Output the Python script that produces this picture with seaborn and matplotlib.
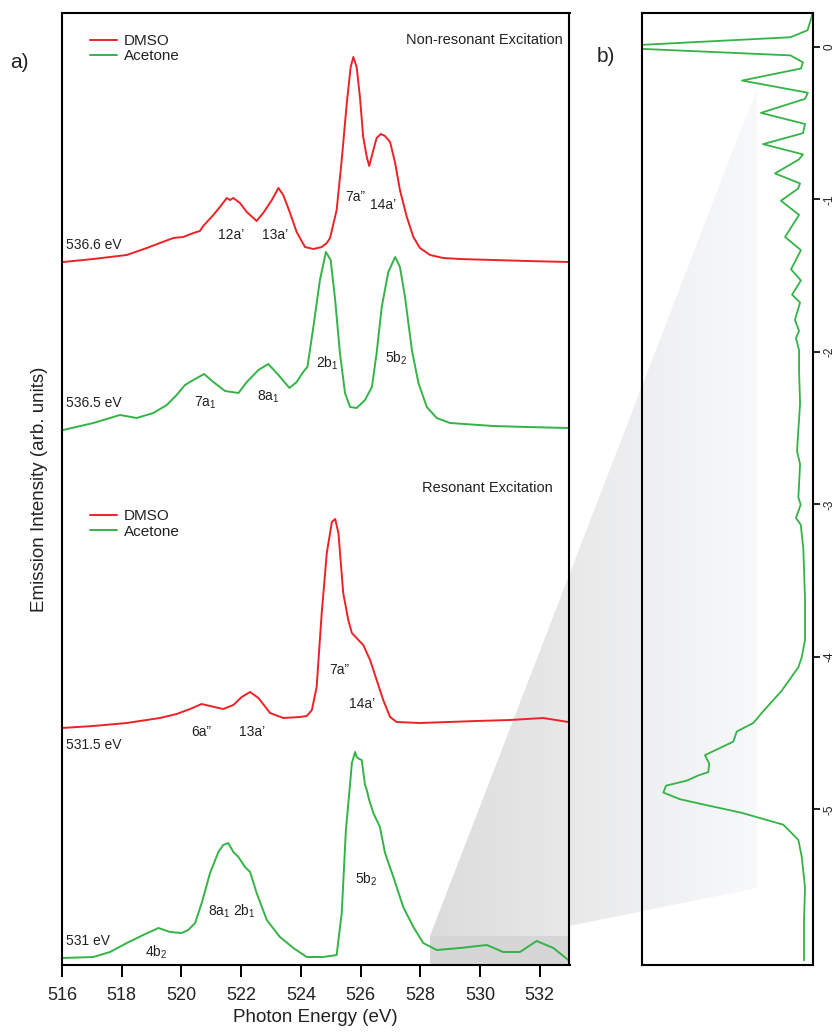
import numpy as np
import matplotlib
matplotlib.use("Agg")
import matplotlib.pyplot as plt
from matplotlib.colors import LinearSegmentedColormap
from matplotlib.patches import Polygon, Rectangle
from matplotlib.lines import Line2D
from matplotlib.legend import Legend
import seaborn as sns

# ---------------- spectra (photon energy in eV, intensity in arb. units) ----------------
dmso_nonres_energy = [516.04, 517.05, 518.17, 518.84, 519.28, 519.73, 520.06, 520.40, 520.62, 520.73,
                      521.07, 521.29, 521.52, 521.63, 521.74, 521.96, 522.19, 522.52, 522.74, 523.03,
                      523.25, 523.41, 523.64, 523.86, 524.14, 524.42, 524.70, 524.87, 524.98, 525.20,
                      525.37, 525.54, 525.67, 525.76, 525.87, 525.98, 526.09, 526.21, 526.29, 526.43,
                      526.54, 526.68, 526.82, 526.99, 527.16, 527.32, 527.55, 527.77, 527.99, 528.33,
                      528.77, 529.33, 530.45, 531.57, 532.96]
dmso_nonres_int = [0.00, 0.03, 0.07, 0.14, 0.19, 0.24, 0.25, 0.29, 0.31, 0.36,
                   0.47, 0.55, 0.64, 0.62, 0.64, 0.59, 0.50, 0.41, 0.49, 0.62,
                   0.74, 0.67, 0.49, 0.30, 0.15, 0.13, 0.15, 0.19, 0.24, 0.52,
                   1.02, 1.59, 1.95, 2.05, 1.95, 1.65, 1.25, 1.05, 0.96, 1.12,
                   1.24, 1.28, 1.26, 1.20, 0.99, 0.72, 0.45, 0.25, 0.14, 0.07,
                   0.04, 0.03, 0.02, 0.01, 0.00]

acet_nonres_energy = [516.04, 517.05, 517.94, 518.50, 519.06, 519.51, 519.84, 520.12, 520.40, 520.76,
                      521.07, 521.46, 521.91, 522.19, 522.58, 522.91, 523.25, 523.62, 523.86, 524.08,
                      524.22, 524.42, 524.64, 524.84, 525.00, 525.15, 525.31, 525.48, 525.65, 525.87,
                      526.15, 526.38, 526.54, 526.71, 526.93, 527.16, 527.32, 527.49, 527.72, 527.94,
                      528.22, 528.55, 529.00, 530.45, 531.57, 532.96]
acet_nonres_int = [0.00, 0.07, 0.15, 0.12, 0.17, 0.25, 0.35, 0.45, 0.50, 0.56,
                   0.48, 0.39, 0.37, 0.48, 0.60, 0.66, 0.55, 0.42, 0.48, 0.58,
                   0.63, 1.03, 1.50, 1.78, 1.70, 1.30, 0.77, 0.37, 0.23, 0.22,
                   0.30, 0.43, 0.77, 1.23, 1.58, 1.73, 1.63, 1.33, 0.80, 0.47,
                   0.23, 0.12, 0.07, 0.04, 0.03, 0.02]

dmso_res_energy = [516.00, 517.05, 518.17, 519.28, 519.84, 520.29, 520.68, 520.96, 521.40, 521.74,
                   522.02, 522.30, 522.58, 522.97, 523.41, 523.97, 524.20, 524.37, 524.53, 524.70,
                   524.87, 525.04, 525.15, 525.26, 525.42, 525.59, 525.71, 525.93, 526.09, 526.32,
                   526.54, 526.76, 526.99, 527.21, 527.99, 529.89, 531.01, 532.12, 532.96]
dmso_res_int = [0.00, 0.02, 0.05, 0.10, 0.14, 0.19, 0.24, 0.22, 0.19, 0.23,
                0.31, 0.36, 0.30, 0.15, 0.10, 0.11, 0.12, 0.18, 0.41, 1.15,
                1.75, 2.06, 2.09, 1.95, 1.35, 1.08, 0.95, 0.88, 0.83, 0.68,
                0.48, 0.28, 0.11, 0.06, 0.05, 0.07, 0.08, 0.10, 0.06]

acet_res_energy = [516.00, 517.05, 517.61, 518.17, 518.72, 519.23, 519.62, 520.01, 520.23, 520.46,
                   520.68, 520.96, 521.24, 521.40, 521.57, 521.74, 521.91, 522.13, 522.30, 522.52,
                   522.86, 523.30, 523.75, 524.20, 524.75, 525.20, 525.37, 525.51, 525.65, 525.71,
                   525.82, 525.87, 525.96, 526.04, 526.15, 526.21, 526.29, 526.43, 526.65, 526.82,
                   527.10, 527.43, 527.77, 528.10, 528.55, 529.33, 530.23, 530.78, 531.34, 531.90,
                   532.46, 532.96]
acet_res_int = [0.00, 0.01, 0.06, 0.15, 0.23, 0.30, 0.26, 0.25, 0.28, 0.35,
                0.55, 0.85, 1.06, 1.13, 1.15, 1.06, 1.01, 0.91, 0.86, 0.65,
                0.38, 0.21, 0.10, 0.01, 0.01, 0.03, 0.45, 1.28, 1.74, 1.95,
                2.06, 2.01, 1.99, 1.98, 1.73, 1.68, 1.58, 1.45, 1.31, 1.05,
                0.81, 0.51, 0.31, 0.15, 0.08, 0.10, 0.13, 0.06, 0.06, 0.17,
                0.10, -0.02]

# vertical offsets of the stacked spectra
spectrum_offsets = [7.03, 5.35, 2.37, 0.07]
excitation_labels = ["536.6 eV", "536.5 eV", "531.5 eV", "531 eV"]

# panel b: expanded trace (energy axis vertical, intensity growing to the left)
detail_energy = [0.221, 0.11, 0.064, 0.0, -0.055, -0.101, -0.141, -0.220, -0.300, -0.340,
                 -0.432, -0.505, -0.565, -0.637, -0.704, -0.737, -0.829, -0.895, -0.929, -1.008,
                 -1.101, -1.246, -1.332, -1.458, -1.531, -1.624, -1.676, -1.789, -1.862, -1.908,
                 -1.988, -2.120, -2.338, -2.650, -2.735, -2.955, -3.0, -3.089, -3.133, -3.289,
                 -3.622, -3.889, -4.0, -4.067, -4.222, -4.355, -4.433, -4.489, -4.555, -4.644,
                 -4.700, -4.755, -4.777, -4.811, -4.844, -4.889, -4.933, -4.967, -5.022, -5.100,
                 -5.200, -5.311, -5.511, -5.733, -5.99]
detail_int = [0.0, 0.03, 0.13, 1.25, 0.13, 0.057, 0.069, 0.414, 0.028, 0.045,
              0.303, 0.045, 0.057, 0.291, 0.057, 0.080, 0.221, 0.074, 0.086, 0.186,
              0.080, 0.162, 0.069, 0.127, 0.069, 0.121, 0.074, 0.104, 0.080, 0.098,
              0.080, 0.080, 0.074, 0.092, 0.074, 0.084, 0.070, 0.098, 0.070, 0.055,
              0.045, 0.045, 0.064, 0.084, 0.182, 0.289, 0.348, 0.445, 0.465, 0.631,
              0.606, 0.612, 0.670, 0.738, 0.859, 0.875, 0.777, 0.641, 0.416, 0.172,
              0.084, 0.064, 0.045, 0.051, 0.051]
detail_ticks = [0, -1, -2, -3, -4, -5]

energy_ticks = [516, 518, 520, 522, 524, 526, 528, 530, 532]

RED = "#ec2227"
GREEN = "#34b347"

# ---------------- style ----------------
sns.set_theme(style="white")
plt.rcParams["font.family"] = ["Liberation Sans", "DejaVu Sans"]
plt.rcParams["mathtext.fontset"] = "custom"
plt.rcParams["mathtext.rm"] = "Liberation Sans"
plt.rcParams["mathtext.it"] = "Liberation Sans:italic"
plt.rcParams["mathtext.default"] = "regular"
plt.rcParams["axes.unicode_minus"] = False
TXT = "#222222"

W, H = 837, 1034
fig = plt.figure(figsize=(W / 100, H / 100), dpi=100)
fig.patch.set_facecolor("white")


def box(l, t, r, b):
    return [l / W, 1 - b / H, (r - l) / W, (b - t) / H]


# background layer in pixel units: zoom wedge joining the two panels
bg = fig.add_axes([0, 0, 1, 1], zorder=0)
bg.set_xlim(0, W)
bg.set_ylim(H, 0)
bg.axis("off")
wedge_cmap = LinearSegmentedColormap.from_list("wedge", ["#dcdcdc", "#f8f9fb"])
grad = np.linspace(0, 1, 256).reshape(1, -1)
img = bg.imshow(grad, extent=(430, 757, 965, 88), aspect="auto", cmap=wedge_cmap, zorder=1)
wedge = Polygon([(430, 936), (757, 88), (757, 888), (569, 926), (569, 936)],
                closed=True, transform=bg.transData, facecolor="none", edgecolor="none")
bg.add_patch(wedge)
img.set_clip_path(wedge)
bg.add_patch(Rectangle((430, 936), 139.5, 29, facecolor="#d6d6d6", edgecolor="none", zorder=2))

# ---------------- panel a ----------------
ax = fig.add_axes(box(62, 13, 569.5, 965), zorder=2)
ax.patch.set_alpha(0)

spectra = [
    (dmso_nonres_energy, dmso_nonres_int, RED),
    (acet_nonres_energy, acet_nonres_int, GREEN),
    (dmso_res_energy, dmso_res_int, RED),
    (acet_res_energy, acet_res_int, GREEN),
]
for (en, inten, col), off in zip(spectra, spectrum_offsets):
    sns.lineplot(x=en, y=np.asarray(inten) + off, ax=ax, color=col, lw=1.4,
                 estimator=None, sort=False, legend=False)

ax.set_xlim(516, 533)
ax.set_ylim(0, 9.52)
ax.set_xticks(energy_ticks)
ax.set_xticklabels([str(t) for t in energy_ticks])
ax.set_yticks([])
ax.tick_params(axis="x", bottom=True, direction="out", length=8.5, width=1.4,
               labelsize=13, pad=7, color="black", labelcolor=TXT)
for s in ax.spines.values():
    s.set_color("black")
    s.set_linewidth(1.5)
ax.set_xlabel("Photon Energy (eV)", fontsize=13.5, color=TXT, labelpad=4)
ax.set_ylabel("Emission Intensity (arb. units)", fontsize=13.5, color=TXT, labelpad=10)

# excitation energies
for lab, ypos in zip(excitation_labels, [7.20, 5.62, 2.20, 0.24]):
    ax.text(516.14, ypos, lab, fontsize=10, color=TXT, ha="left", va="center")

# peak assignments
peaks = [
    (521.68, 7.30, "12a’"), (523.14, 7.30, "13a’"), (525.82, 7.68, "7a”"), (526.76, 7.60, "14a’"),
    (520.79, 5.62, "7a$_1$"), (522.90, 5.68, "8a$_1$"), (524.87, 6.02, "2b$_1$"), (527.21, 6.07, "5b$_2$"),
    (520.68, 2.33, "6a”"), (522.36, 2.33, "13a’"), (525.29, 2.95, "7a”"), (526.04, 2.61, "14a’"),
    (519.17, 0.13, "4b$_2$"), (521.68, 0.54, "8a$_1$ 2b$_1$"), (526.18, 0.86, "5b$_2$"),
]
for x, y, lab in peaks:
    ax.text(x, y, lab, fontsize=10, color=TXT, ha="center", va="center")

ax.text(532.78, 9.25, "Non-resonant Excitation", fontsize=10.5, color=TXT, ha="right", va="center")
ax.text(532.44, 4.77, "Resonant Excitation", fontsize=10.5, color=TXT, ha="right", va="center")

# one legend per excitation block
handles = [Line2D([], [], color=RED, lw=1.4), Line2D([], [], color=GREEN, lw=1.4)]
for yanch in (0.978, 0.479):
    leg = Legend(ax, handles, ["DMSO", "Acetone"], loc="upper left", bbox_to_anchor=(0.055, yanch),
                 frameon=False, fontsize=11, handlelength=1.75, handletextpad=0.45,
                 labelspacing=0.1, borderpad=0, borderaxespad=0)
    for t in leg.get_texts():
        t.set_color(TXT)
    ax.add_artist(leg)

# ---------------- panel b ----------------
axr = fig.add_axes(box(642, 13, 812.7, 965), zorder=2)
axr.patch.set_alpha(0)
sns.lineplot(x=detail_int, y=detail_energy, ax=axr, color=GREEN, lw=1.3,
             estimator=None, sort=False, legend=False)
axr.set_xlim(1.0, 0.0)
axr.set_ylim(-6.02, 0.223)
axr.set_xticks([])
axr.set_xlabel("")
axr.set_ylabel("")
axr.yaxis.tick_right()
axr.set_yticks(detail_ticks)
axr.set_yticklabels([str(t) for t in detail_ticks], rotation=90, va="center")
axr.tick_params(axis="y", right=True, left=False, direction="out", length=5, width=1.2,
                labelsize=8.5, pad=3, color="black", labelcolor=TXT)
for s in axr.spines.values():
    s.set_color("black")
    s.set_linewidth(1.5)

fig.text(19 / W, 1 - 62 / H, "a)", fontsize=15, color=TXT, ha="center", va="center")
fig.text(606 / W, 1 - 57 / H, "b)", fontsize=15, color=TXT, ha="center", va="center")

fig.savefig("out.png", dpi=100, facecolor="white")
